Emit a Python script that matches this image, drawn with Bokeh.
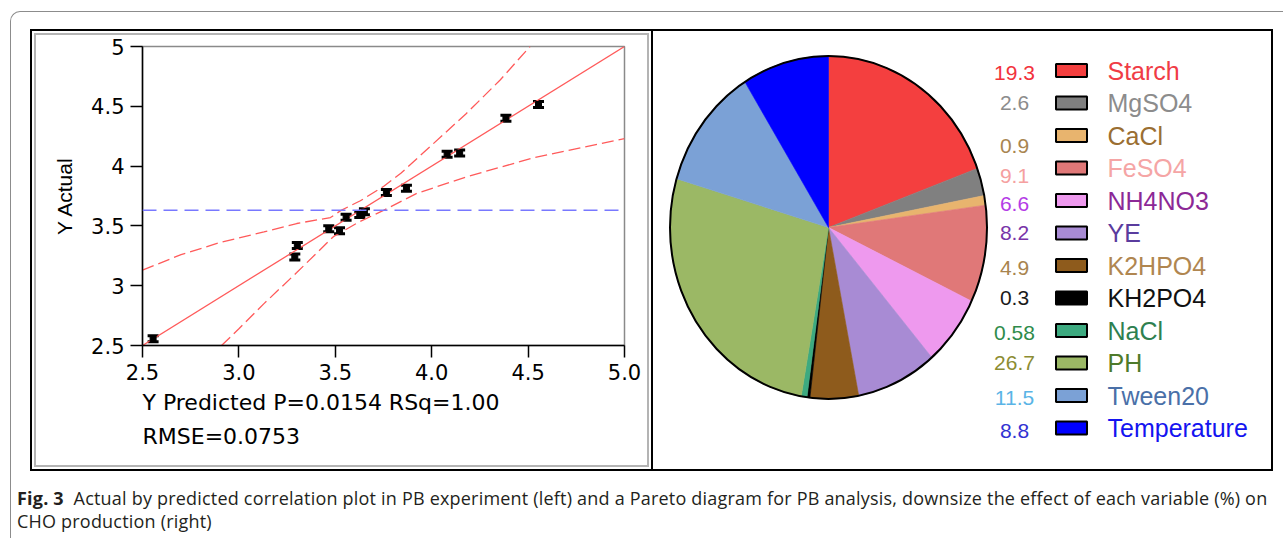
import numpy as np
from bokeh.plotting import figure
from bokeh.layouts import column, row
from bokeh.models import (Range1d, FixedTicker, Span, Title, Whisker, Div,
                          ColumnDataSource, TeeHead, CustomJSTickFormatter)
from bokeh.core.properties import value
from bokeh.embed import file_html
from bokeh.resources import INLINE

# ---------------- data: actual by predicted ----------------
pred = [2.555, 3.29, 3.303, 3.466, 3.522, 3.556, 3.627, 3.651, 3.765, 3.869, 4.08, 4.145, 4.385, 4.554]
actual = [2.556, 3.24, 3.336, 3.476, 3.46, 3.573, 3.595, 3.618, 3.78, 3.815, 4.10, 4.11, 4.40, 4.515]
err = 0.025
fit_x = [2.5, 5.0]
fit_y = [2.5, 5.0]
upper_x = [2.50, 2.70, 2.90, 3.13, 3.30, 3.475, 3.53, 3.63, 3.75, 3.84, 4.01, 4.18, 4.355, 4.51]
upper_y = [3.13, 3.26, 3.36, 3.45, 3.52, 3.57, 3.63, 3.71, 3.83, 3.94, 4.19, 4.44, 4.72, 5.00]
lower_x = [2.91, 3.00, 3.13, 3.30, 3.49, 3.62, 3.75, 3.92, 4.18, 4.53, 5.00]
lower_y = [2.50, 2.64, 2.85, 3.11, 3.41, 3.53, 3.63, 3.77, 3.91, 4.07, 4.23]
mean_actual = 3.63
x_ticks = [2.5, 3.0, 3.5, 4.0, 4.5, 5.0]
x_tick_labels = ["2.5", "3.0", "3.5", "4.0", "4.5", "5.0"]
y_ticks = [2.5, 3.0, 3.5, 4.0, 4.5, 5.0]
y_tick_labels = ["2.5", "3", "3.5", "4", "4.5", "5"]
y_title = "Y Actual"
stats_line1 = "Y Predicted P=0.0154 RSq=1.00"
stats_line2 = "RMSE=0.0753"

# ---------------- data: pie ----------------
factors = ["Starch", "MgSO4", "CaCl", "FeSO4", "NH4NO3", "YE", "K2HPO4", "KH2PO4",
           "NaCl", "PH", "Tween20", "Temperature"]
effects = [19.3, 2.6, 0.9, 9.1, 6.6, 8.2, 4.9, 0.3, 0.58, 26.7, 11.5, 8.8]
wedge_colors = ["#F43F3F", "#808080", "#E8B46E", "#E07878", "#EE99EE", "#A88BD4",
                "#8E5B1C", "#000000", "#3DAA80", "#9BB865", "#7BA1D6", "#0000FF"]
number_colors = ["#F2323C", "#8C8C8C", "#A88550", "#F5A0A0", "#B43CE6", "#7834A8",
                 "#A8844E", "#1A1A1A", "#2E8B4A", "#8C8C32", "#5AB4E6", "#3232D2"]
label_colors = ["#F03C46", "#8C8C8C", "#9A6E32", "#F5A5A5", "#8C2896", "#5A3C9E",
                "#B08650", "#111111", "#2E8050", "#4E7A2A", "#4A70A8", "#1414F0"]

caption_bold = "Fig. 3"
caption_line1 = ("Actual by predicted correlation plot in PB experiment (left) and a Pareto diagram "
                 "for PB analysis, downsize the effect of each variable (%) on")
caption_line2 = "CHO production (right)"

# page geometry (pixels)
BOX_X, BOX_Y = 10, 11          # outer rounded box corner
PANEL_TOP, PANEL_BOTTOM = 29, 471
L_LEFT, SPLIT_X, R_RIGHT = 30, 653, 1273
CONTENT_X, CONTENT_Y = BOX_X + 1, BOX_Y + 1
PH = PANEL_BOTTOM - PANEL_TOP

# ---------------- left panel ----------------
L = figure(width=SPLIT_X - L_LEFT, height=PH, x_range=Range1d(2.5, 5.0), y_range=Range1d(2.5, 5.0),
           output_backend="svg", toolbar_location=None,
           min_border_left=142 - L_LEFT, min_border_right=SPLIT_X - 624,
           min_border_top=46 - PANEL_TOP, min_border_bottom=PANEL_BOTTOM - 345,
           margin=(PANEL_TOP - CONTENT_Y, 0, 0, L_LEFT - CONTENT_X),
           styles={"box-shadow": "inset 0 0 0 2px #000000, inset 0 0 0 4px #ffffff, "
                                 "inset 0 0 0 6px #b4b4b4"})
L.xgrid.visible = False
L.ygrid.visible = False
L.background_fill_color = "white"
L.border_fill_color = None
L.outline_line_color = "#8a8a8a"
L.outline_line_width = 1.5

fmt_code = ("const i = tvals.findIndex(t => Math.abs(t - tick) < 1e-9);"
            "return i >= 0 ? tlabels[i] : '';")
L.xaxis.ticker = FixedTicker(ticks=x_ticks)
L.xaxis.formatter = CustomJSTickFormatter(args=dict(tvals=x_ticks, tlabels=x_tick_labels), code=fmt_code)
L.yaxis.ticker = FixedTicker(ticks=y_ticks)
L.yaxis.formatter = CustomJSTickFormatter(args=dict(tvals=y_ticks, tlabels=y_tick_labels), code=fmt_code)
for ax in (L.xaxis[0], L.yaxis[0]):
    ax.axis_line_color = "black"
    ax.axis_line_width = 1.5
    ax.major_tick_line_color = "black"
    ax.major_tick_line_width = 1.5
    ax.major_tick_out = 12
    ax.major_tick_in = 0
    ax.minor_tick_line_color = None
    ax.major_label_text_font = "DejaVu Sans"
    ax.major_label_text_font_size = "21px"
    ax.major_label_text_color = "black"
    ax.major_label_standoff = 6
L.yaxis.axis_label = y_title
L.yaxis.axis_label_text_font = "Liberation Sans"
L.yaxis.axis_label_text_font_size = "21px"
L.yaxis.axis_label_text_font_style = "normal"
L.yaxis.axis_label_text_color = "black"
L.yaxis.axis_label_standoff = 12

L.line(fit_x, fit_y, line_color="#FF5A5A", line_width=1.3)
L.line(upper_x, upper_y, line_color="#FF5A5A", line_width=1.3, line_dash="12 5")
L.line(lower_x, lower_y, line_color="#FF5A5A", line_width=1.3, line_dash="12 5")
L.add_layout(Span(location=mean_actual, dimension="width", line_color="#7878FF",
                  line_width=1.5, line_dash="14 7"))

src = ColumnDataSource(dict(x=pred, y=actual,
                            lo=[a - err for a in actual], hi=[a + err for a in actual]))
L.add_layout(Whisker(base="x", upper="hi", lower="lo", source=src, dimension="height",
                     line_color="black", line_width=2,
                     upper_head=TeeHead(size=11, line_width=3, line_color="black"),
                     lower_head=TeeHead(size=11, line_width=3, line_color="black")))
L.scatter("x", "y", source=src, marker="square", size=6, color="black")

for txt, so in ((stats_line1, 11), (stats_line2, 2)):
    L.add_layout(Title(text=txt, align="left", text_font="DejaVu Sans", text_font_size="22px",
                       text_font_style="normal", text_color="black", standoff=so), "below")

# ---------------- right panel (pie) ----------------
R = figure(width=R_RIGHT - SPLIT_X, height=PH, x_range=Range1d(SPLIT_X, R_RIGHT),
           y_range=Range1d(PANEL_BOTTOM, PANEL_TOP),
           output_backend="svg", toolbar_location=None, min_border=0,
           x_axis_location=None, y_axis_location=None,
           margin=(PANEL_TOP - CONTENT_Y, 0, 0, 0),
           styles={"box-shadow": "inset 0 2px 0 0 #000000, inset -2px 0 0 0 #000000, "
                                 "inset 0 -2px 0 0 #000000"})
R.xgrid.visible = False
R.ygrid.visible = False
R.outline_line_color = None
R.background_fill_color = None
R.border_fill_color = None

cx, cy, rx, ry = 828, 227, 158.5, 171.5
total = sum(effects)
xs, ys = [], []
acc = 0.0
for v in effects:
    a0 = acc / total * 2 * np.pi
    a1 = (acc + v) / total * 2 * np.pi
    t = np.linspace(a0, a1, max(4, int(v * 5)))
    xs.append([cx] + list(cx + rx * np.sin(t)))
    ys.append([cy] + list(cy - ry * np.cos(t)))
    acc += v
R.patches(xs, ys, fill_color=wedge_colors, line_color=wedge_colors, line_width=0.6)
R.ellipse(x=cx, y=cy, width=2 * rx, height=2 * ry, fill_color=None,
          line_color="black", line_width=2)

row_y = [70 + i * 32.5 for i in range(len(factors))]
num_dy = [2, 0, 10, 8, 3, 0, 2, 0, 2, 0, 2, 3]
num_y = [y + d for y, d in zip(row_y, num_dy)]
num_text = [f"{v:g}" for v in effects]
R.rect(x=[1071] * len(factors), y=row_y, width=31, height=13, fill_color=wedge_colors,
       line_color="black", line_width=2)
R.text(x=[1014] * len(factors), y=num_y, text=num_text, text_align="center",
       text_baseline="middle", text_color=number_colors, text_font=value("Liberation Sans"),
       text_font_size="21px")
R.text(x=[1107] * len(factors), y=row_y, text=factors, text_align="left",
       text_baseline="middle", text_color=label_colors, text_font=value("Liberation Sans"),
       text_font_size="25px")

# ---------------- caption ----------------
cap_html = ("<div style=\"padding:11px 0 0 1px; font-family:'Open Sans',sans-serif; font-size:18px; "
            "line-height:23px; color:#231F20; white-space:nowrap; letter-spacing:0.2px\">"
            f"<b>{caption_bold}</b>&nbsp; {caption_line1}<br>{caption_line2}</div>")
C = Div(text=cap_html, width=R_RIGHT - CONTENT_X, height=538 - PANEL_BOTTOM)

layout = column(row(L, column(R)), C,
                margin=(BOX_Y, 0, 0, BOX_X),
                styles={"border-left": "1px solid #8c8c8c", "border-top": "1px solid #8c8c8c",
                        "border-top-left-radius": "10px"})
open("out.html", "w").write(file_html(layout, INLINE))
